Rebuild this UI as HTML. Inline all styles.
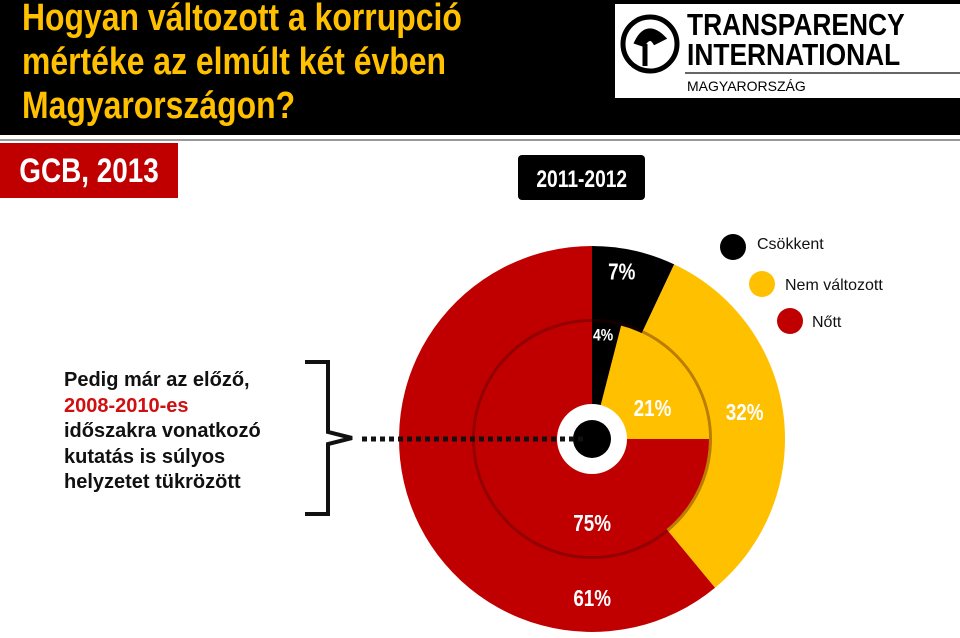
<!DOCTYPE html>
<html><head><meta charset="utf-8"><style>
body{margin:0;width:960px;height:638px;background:#fff;position:relative;overflow:hidden;font-family:"Liberation Sans",sans-serif}
.a{position:absolute}
.title{left:22px;color:#FFC000;font-weight:bold;font-size:38px;line-height:44px;top:-4px;transform:scaleX(0.84);transform-origin:0 0;white-space:nowrap}
.lt{left:64px;top:368px;font-weight:bold;font-size:20px;line-height:25.5px;color:#111;white-space:nowrap}
.leg{font-size:16px;color:#111;white-space:nowrap}
</style></head><body>
<div class="a" style="left:0;top:0;width:960px;height:135px;background:#000"></div>
<div class="a title">Hogyan változott a korrupció<br>mértéke az elmúlt két évben<br>Magyarországon?</div>
<div class="a" style="left:0;top:139px;width:960px;height:2px;background:#999"></div>
<div class="a" style="left:615px;top:4px;width:345px;height:94px;background:#fff">
 <svg width="345" height="94" style="position:absolute;left:0;top:0">
  <circle cx="35" cy="40" r="27" fill="none" stroke="#000" stroke-width="5"/>
  <path d="M22 38 q10 -20 26 -4 l-8 4 q-5 -8 -12 2 z M30 40 v22" stroke="#000" stroke-width="5" fill="#000"/>
  <line x1="70" y1="69" x2="345" y2="69" stroke="#333" stroke-width="1.5"/>
 </svg>
 <div class="a" style="left:72px;top:6px;font-size:31px;line-height:30px;color:#000;font-weight:bold;transform:scaleX(0.85);transform-origin:0 0;white-space:nowrap">TRANSPARENCY<br>INTERNATIONAL</div>
 <div class="a" style="left:72px;top:74px;font-size:14px;color:#000;white-space:nowrap">MAGYARORSZÁG</div>
</div>
<div class="a" style="left:0;top:143px;width:178px;height:55px;background:#C00000;color:#fff;font-weight:bold;font-size:34px;line-height:57px;text-align:center"><span style="display:inline-block;transform:scaleX(0.82)">GCB, 2013</span></div>
<div class="a" style="left:518px;top:155px;width:127px;height:45px;background:#000;border-radius:4px;color:#fff;font-weight:bold;font-size:24px;line-height:50px;text-align:center"><span style="display:inline-block;transform:scaleX(0.8)">2011-2012</span></div>

<div class="a lt">Pedig már az előző,<br><span style="color:#D01010">2008-2010-es</span><br>időszakra vonatkozó<br>kutatás is súlyos<br>helyzetet tükrözött</div>

<svg class="a" style="left:0;top:0" width="960" height="638" id="chart">
 <path d="M305 362 H328 V432 L352 438 L328 444 V514 H305" fill="none" stroke="#111" stroke-width="4"/>
 <g id="g"></g>
 <line x1="362" y1="439" x2="585" y2="439" stroke="#111" stroke-width="5" stroke-dasharray="5 4"/>
</svg>

<div class="a" style="left:0;top:0">
 <div class="a" style="left:720px;top:234px;width:26px;height:26px;border-radius:50%;background:#000"></div>
 <div class="a leg" style="left:757px;top:236px">Csökkent</div>
 <div class="a" style="left:749px;top:271px;width:26px;height:26px;border-radius:50%;background:#FFC000"></div>
 <div class="a leg" style="left:785px;top:277px">Nem változott</div>
 <div class="a" style="left:777px;top:308px;width:26px;height:26px;border-radius:50%;background:#C00000"></div>
 <div class="a leg" style="left:812px;top:314px">Nőtt</div>
</div>

<script>
const categories = ["Csökkent", "Nem változott", "Nőtt"];
const outerValues = [7, 32, 61];
const innerValues = [4, 21, 75];
const colors = ["#000000", "#FFC000", "#C00000"];
const cx = 592, cy = 439, rOuter = 193, rInner = 117;
const g = document.getElementById('g');
const NS = "http://www.w3.org/2000/svg";
function pt(frac, r){ const a = frac*2*Math.PI; return [cx + r*Math.sin(a), cy - r*Math.cos(a)]; }
function drawRing(values, r, prefix){
  const total = values.reduce((s,v)=>s+v,0);
  let acc = 0;
  values.forEach((v,i)=>{
    const f0 = acc/total, f1 = (acc+v)/total; acc += v;
    const [x0,y0] = pt(f0,r), [x1,y1] = pt(f1,r);
    const large = (f1-f0) > 0.5 ? 1 : 0;
    const p = document.createElementNS(NS,'path');
    p.setAttribute('d', `M${cx} ${cy} L${x0} ${y0} A${r} ${r} 0 ${large} 1 ${x1} ${y1} Z`);
    p.setAttribute('fill', colors[i]);
    
    
    g.appendChild(p);
  });
}
function drawLabels(values, place, labelRs, prefix, sizes){
  const total = values.reduce((s,v)=>s+v,0);
  let acc = 0;
  values.forEach((v,i)=>{
    const pos = (acc + v*place[i])/total; acc += v;
    const [x,y] = pt(pos, labelRs[i]);
    const fs = sizes[i];
    const t = document.createElementNS(NS,'text');
    t.setAttribute('x', x); t.setAttribute('y', y + fs*0.35);
    t.setAttribute('text-anchor','middle');
    t.setAttribute('fill','#fff');
    t.setAttribute('font-weight','bold');
    t.setAttribute('font-size', fs);
    t.setAttribute('font-family','Liberation Sans, sans-serif');
    t.setAttribute('transform', `translate(${x} 0) scale(0.82 1) translate(${-x} 0)`);
    t.textContent = v + '%';
    
    
    g.appendChild(t);
  });
}
drawRing(outerValues, rOuter, 'outer');
const sh = document.createElementNS(NS,'circle');
sh.setAttribute('cx',cx); sh.setAttribute('cy',cy); sh.setAttribute('r',rInner+1.5);
sh.setAttribute('fill','none'); sh.setAttribute('stroke','rgba(60,0,0,0.35)'); sh.setAttribute('stroke-width','3');


g.appendChild(sh);
drawRing(innerValues, rInner, 'inner');
drawLabels(outerValues, [0.4, 0.475, 0.18], [170, 155, 159], 'outer', [23, 23, 23]);
drawLabels(innerValues, [0.42, 0.64, 0.333], [105, 68, 84], 'inner', [17, 23, 23]);
const wc = document.createElementNS(NS,'circle');
wc.setAttribute('cx',cx); wc.setAttribute('cy',cy); wc.setAttribute('r',35); wc.setAttribute('fill','#fff');


g.appendChild(wc);
const bc = document.createElementNS(NS,'circle');
bc.setAttribute('cx',cx); bc.setAttribute('cy',cy); bc.setAttribute('r',19); bc.setAttribute('fill','#000');


g.appendChild(bc);
</script>
</body></html>
